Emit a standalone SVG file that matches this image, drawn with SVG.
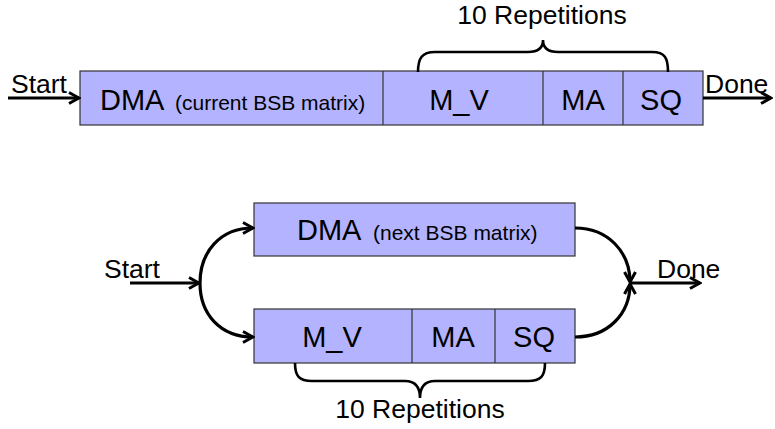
<svg xmlns="http://www.w3.org/2000/svg" width="775" height="429" viewBox="0 0 775 429">
<style>
.box{fill:#b3b3ff;stroke:#333;stroke-width:1.2}
.div{stroke:#333;stroke-width:1.2}
.t{font-family:"Liberation Sans",Arial,sans-serif;fill:#000}
.big{font-size:29px}
.mid{font-size:26.5px}
.sm{font-size:21px}
.ln{fill:none;stroke:#000;stroke-width:3.2}
.br{fill:none;stroke:#000;stroke-width:2.6}
</style>
<defs>
<marker id="ah" viewBox="0 0 14 14" refX="12" refY="7" markerUnits="userSpaceOnUse" markerWidth="14" markerHeight="14" orient="auto">
<path d="M2 1.5 L12 7 L2 12.5" fill="none" stroke="#000" stroke-width="3"/>
</marker>
</defs>
<rect width="775" height="429" fill="#fff"/>

<g id="top-pipeline">
<rect class="box" x="80" y="71" width="623" height="54"/>
<line class="div" x1="383" y1="71" x2="383" y2="125"/>
<line class="div" x1="543" y1="71" x2="543" y2="125"/>
<line class="div" x1="623" y1="71" x2="623" y2="125"/>
</g>
<g id="top-dma"><text class="t big" x="100" y="110">DMA</text><text class="t sm" x="175" y="110">(current BSB matrix)</text></g>
<g id="top-mv"><text class="t big" x="459" y="110" text-anchor="middle">M_V</text></g>
<g id="top-ma"><text class="t big" x="583" y="110" text-anchor="middle">MA</text></g>
<g id="top-sq"><text class="t big" x="661" y="110" text-anchor="middle">SQ</text></g>
<g id="top-start"><text class="t mid" x="11" y="93">Start</text></g>
<g id="top-done"><text class="t mid" x="705" y="93">Done</text></g>
<g id="top-rep"><text class="t mid" x="542" y="24" text-anchor="middle">10 Repetitions</text></g>

<g id="bottom-dma">
<rect class="box" x="254" y="203" width="321" height="53"/>
<text class="t big" x="297" y="240">DMA</text><text class="t sm" x="373" y="240">(next BSB matrix)</text>
</g>
<g id="bottom-pipeline">
<rect class="box" x="254" y="309" width="321" height="54"/>
<line class="div" x1="412" y1="309" x2="412" y2="363"/>
<line class="div" x1="495" y1="309" x2="495" y2="363"/>
</g>
<g id="bottom-mv"><text class="t big" x="332" y="347" text-anchor="middle">M_V</text></g>
<g id="bottom-ma"><text class="t big" x="453" y="347" text-anchor="middle">MA</text></g>
<g id="bottom-sq"><text class="t big" x="534" y="347" text-anchor="middle">SQ</text></g>
<g id="bottom-start"><text class="t mid" x="104" y="278">Start</text></g>
<g id="bottom-done"><text class="t mid" x="657" y="278">Done</text></g>
<g id="bottom-rep"><text class="t mid" x="420" y="418" text-anchor="middle">10 Repetitions</text></g>

<g id="connectors">
<line class="ln" x1="8" y1="98" x2="79" y2="98" marker-end="url(#ah)"/>
<line class="ln" x1="703" y1="98" x2="771" y2="98" marker-end="url(#ah)"/>
<path class="br" d="M418 72 C418 58 422 52 435 52 L528 52 C538 52 543 48 543 40 C543 48 548 52 558 52 L652 52 C665 52 668 58 668 72"/>

<line class="ln" x1="130" y1="283" x2="199" y2="283" marker-end="url(#ah)"/>
<path class="ln" d="M200 283 C200 252 220 228 253 228" marker-end="url(#ah)"/>
<path class="ln" d="M200 283 C200 314 220 337 253 337" marker-end="url(#ah)"/>
<path class="ln" d="M575 228 C608 228 630 252 630 282" marker-end="url(#ah)"/>
<path class="ln" d="M575 337 C608 337 630 314 630 284" marker-end="url(#ah)"/>
<line class="ln" x1="630" y1="283" x2="700" y2="283" marker-end="url(#ah)"/>
<path class="br" d="M295 363 C295 376 299 381 312 381 L405 381 C415 381 420 386 420 398 C420 386 425 381 435 381 L528 381 C541 381 545 376 545 363"/>
</g>
</svg>
